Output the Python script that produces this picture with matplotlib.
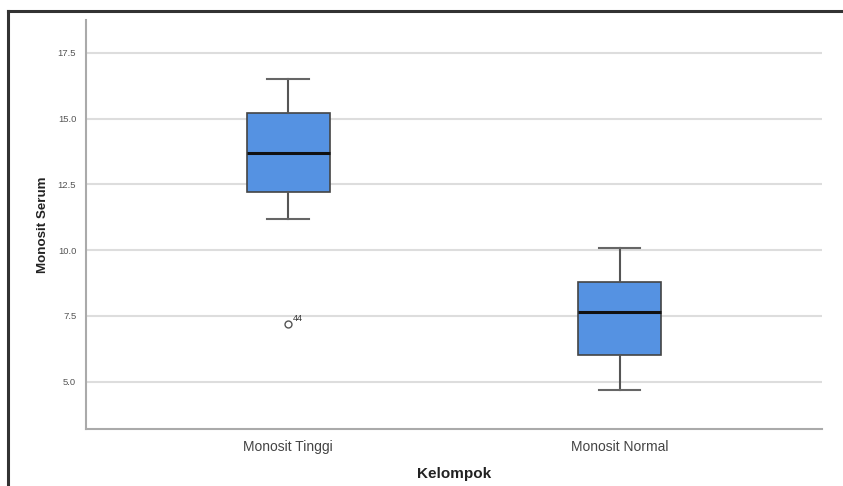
import matplotlib.pyplot as plt
from matplotlib.lines import Line2D

plt.rcParams["font.family"] = ["Liberation Sans", "DejaVu Sans"]

groups = ["Monosit Tinggi", "Monosit Normal"]
whis_lo = [11.2, 4.7]
q1 = [12.2, 6.0]
medians = [13.7, 7.65]
q3 = [15.2, 8.8]
whis_hi = [16.5, 10.1]
outliers = [[7.2], []]
outlier_ids = [["44"], []]

stats = []
for i in range(len(groups)):
    stats.append({"label": groups[i], "whislo": whis_lo[i], "q1": q1[i],
                  "med": medians[i], "q3": q3[i], "whishi": whis_hi[i],
                  "fliers": outliers[i]})

fig = plt.figure(figsize=(8.43, 4.86), dpi=100)
ax = fig.add_axes([0.102, 0.117, 0.873, 0.842])

ax.bxp(stats, positions=[0, 1], widths=0.25, patch_artist=True,
       boxprops=dict(facecolor="#5592E2", edgecolor="#444444", linewidth=1.2),
       medianprops=dict(color="#111111", linewidth=2.2),
       whiskerprops=dict(color="#555555", linewidth=1.5),
       capprops=dict(color="#666666", linewidth=1.5),
       capwidths=0.125,
       flierprops=dict(marker="o", markersize=5, markerfacecolor="none",
                       markeredgecolor="#555555", markeredgewidth=1),
       zorder=3)

# outlier case labels
for i in range(len(groups)):
    for v, lab in zip(outliers[i], outlier_ids[i]):
        ax.annotate(lab, (i, v), xytext=(3, 2), textcoords="offset points",
                    fontsize=6.5, color="#333333")

ax.set_xlim(-0.61, 1.61)
ax.set_ylim(3.2, 18.75)
ax.set_yticks([5.0, 7.5, 10.0, 12.5, 15.0, 17.5])
ax.set_yticklabels(["5.0", "7.5", "10.0", "12.5", "15.0", "17.5"])
ax.yaxis.grid(True, color="#dddddd", linewidth=1.5, zorder=0)
ax.set_axisbelow(True)
ax.tick_params(axis="y", length=0, labelsize=6.8, labelcolor="#555555", pad=7)
ax.tick_params(axis="x", length=0, labelsize=10, labelcolor="#444444", pad=8)

for s in ["top", "right"]:
    ax.spines[s].set_visible(False)
for s in ["left", "bottom"]:
    ax.spines[s].set_color("#aaaaaa")
    ax.spines[s].set_linewidth(1.5)

ax.set_xlabel("Kelompok", fontsize=11, fontweight="bold", color="#222222", labelpad=9)
ax.set_ylabel("Monosit Serum", fontsize=9.6, fontweight="bold", color="#222222", labelpad=6)

# outer frame (top and left edges)
fig.add_artist(Line2D([0.009, 1.0], [0.978, 0.978], color="#333333", linewidth=2.2))
fig.add_artist(Line2D([0.009, 0.009], [0.0, 0.978], color="#333333", linewidth=2.2))

fig.savefig("out.png", dpi=100)
